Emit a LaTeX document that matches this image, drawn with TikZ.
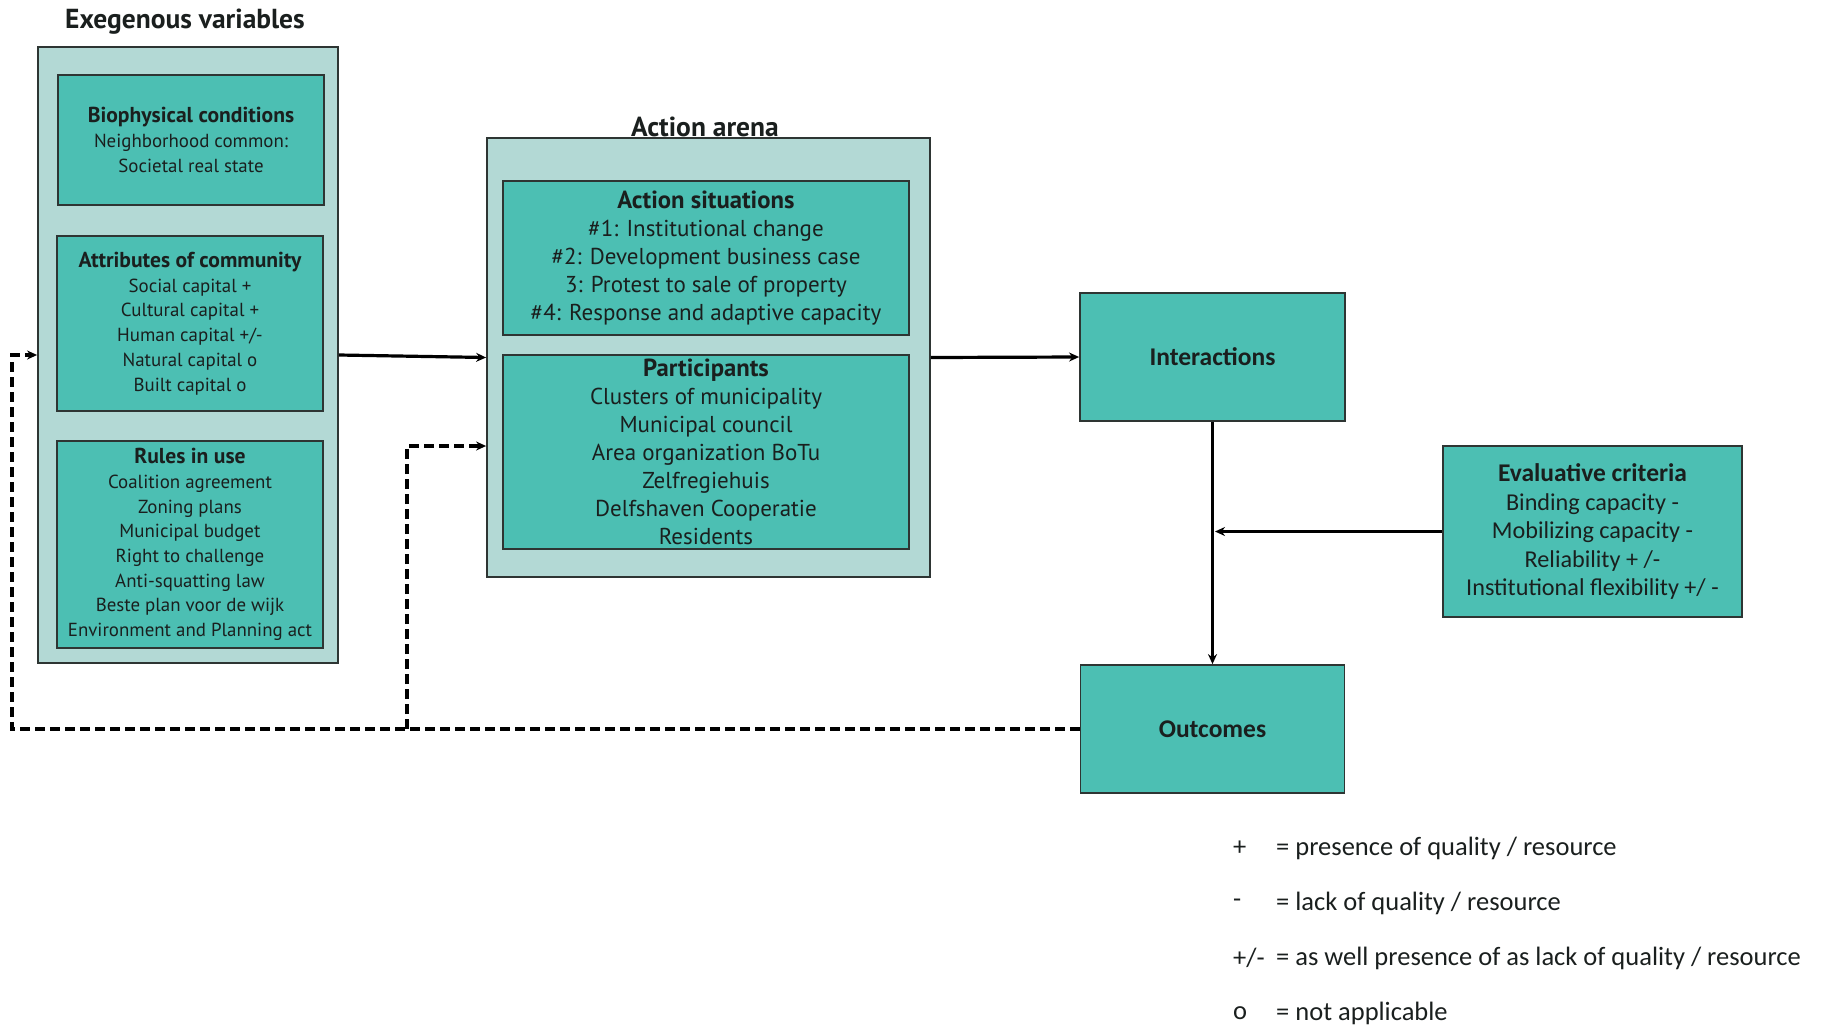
\documentclass[tikz,border=0pt]{standalone}
\usepackage{fontspec}
\setmainfont{PT Sans}
\newfontfamily\condfont{Carlito}
\usetikzlibrary{arrows.meta,calc}
\definecolor{outerteal}{HTML}{B3D9D5}
\definecolor{innerteal}{HTML}{4CBFB3}
\definecolor{edgegray}{HTML}{2E3533}
\definecolor{txt}{HTML}{1A1F1E}
\newcommand{\hdl}[1]{{\fontsize{21.6}{24.7}\selectfont\bfseries #1}}
\newcommand{\hda}[1]{{\fontsize{24.7}{28}\selectfont\bfseries #1}}
\begin{document}
\begin{tikzpicture}[x=1pt,y=-1pt,
  outerbox/.style={draw=edgegray,line width=1.8pt,fill=outerteal,inner sep=0pt},
  innerbox/.style={draw=edgegray,line width=1.8pt,fill=innerteal,inner sep=0pt,align=center,text=txt},
  leftbox/.style={innerbox,font=\fontsize{18.9}{24.7}\selectfont},
  arenabox/.style={innerbox,font=\fontsize{23}{28}\selectfont},
  condbox/.style={innerbox,font=\condfont\fontsize{24.2}{28.5}\selectfont},
  bigcond/.style={innerbox,font=\condfont\bfseries\fontsize{25.5}{28.5}\selectfont},
  titletext/.style={font=\bfseries\fontsize{27.5}{30}\selectfont,text=txt,inner sep=0pt},
  flow/.style={line width=3.2pt,-{Stealth[length=10pt,width=9pt]}},
  feedback/.style={line width=3.2pt,dash pattern=on 10pt off 5pt,-{Stealth[length=10pt,width=9pt]}},
  legsym/.style={font=\condfont\fontsize{26.5}{30}\selectfont,text=txt,anchor=west,inner sep=0pt},
]
\useasboundingbox (0,0) rectangle (1825,1026);

% exogenous variables
\node[titletext] (exotitle) at (185,22) {Exegenous variables};
\node[outerbox,minimum width=300pt,minimum height=616pt] (exo) at (188,355) {};
\node[leftbox,minimum width=266pt,minimum height=130pt] (bio) at (191,140)
  {\hdl{Biophysical conditions}\\Neighborhood common:\\Societal real state};
\node[leftbox,minimum width=266pt,minimum height=175pt] (attr) at (190,323.5)
  {\hdl{Attributes of community}\\Social capital +\\Cultural capital +\\Human capital +/-\\Natural capital o\\Built capital o};
\node[leftbox,minimum width=266pt,minimum height=207pt] (rules) at (190,544.5)
  {\hdl{Rules in use}\\Coalition agreement\\Zoning plans\\Municipal budget\\Right to challenge\\Anti-squatting law\\Beste plan voor de wijk\\Environment and Planning act};

% action arena
\node[titletext] (arenatitle) at (705,127) {Action arena};
\node[outerbox,minimum width=443pt,minimum height=439pt] (arena) at (708.5,357.5) {};
\node[arenabox,minimum width=406pt,minimum height=154pt] (situ) at (706,258)
  {\hda{Action situations}\\\#1: Institutional change\\\#2: Development business case\\3: Protest to sale of property\\\#4: Response and adaptive capacity};
\node[arenabox,minimum width=406pt,minimum height=194pt] (part) at (706,452)
  {\hda{Participants}\\Clusters of municipality\\Municipal council\\Area organization BoTu\\Zelfregiehuis\\Delfshaven Cooperatie\\Residents};

% right side
\node[bigcond,minimum width=265pt,minimum height=128pt] (inter) at (1212.5,357) {Interactions};
\node[bigcond,minimum width=264pt,minimum height=128pt] (outc) at (1212.5,729) {Outcomes};
\node[condbox,minimum width=299pt,minimum height=171pt] (eval) at (1592.5,531.5)
  {{\bfseries\fontsize{25.5}{28.5}\selectfont Evaluative criteria}\\Binding capacity -\\Mobilizing capacity -\\Reliability + /-\\Institutional flexibility +/ -};

% connectors
\draw[flow] (exo.east) -- (arena.west);
\draw[flow] (arena.east) -- (inter.west);
\draw[flow] (inter.south) -- (outc.north);
\coordinate (evalend) at (1215,531.5);
\draw[flow] (eval.west) -- (evalend);
\coordinate (fbleft) at (12,729);
\coordinate (fbmid) at (407,729);
\draw[feedback] (outc.west) -- (fbleft) |- (exo.west);
\draw[feedback] (fbmid) |- ([yshift=-88.5pt]arena.west);

% legend
\node[legsym] (l1s) at (1233,848) {+};
\node[legsym] (l1t) at (1276,848) {= presence of quality / resource};
\node[legsym] (l2s) at (1233,903) {-};
\node[legsym] (l2t) at (1276,903) {= lack of quality / resource};
\node[legsym] (l3s) at (1233,958) {+/-};
\node[legsym] (l3t) at (1276,958) {= as well presence of as lack of quality / resource};
\node[legsym] (l4s) at (1233,1013) {o};
\node[legsym] (l4t) at (1276,1013) {= not applicable};
\end{tikzpicture}
\end{document}
